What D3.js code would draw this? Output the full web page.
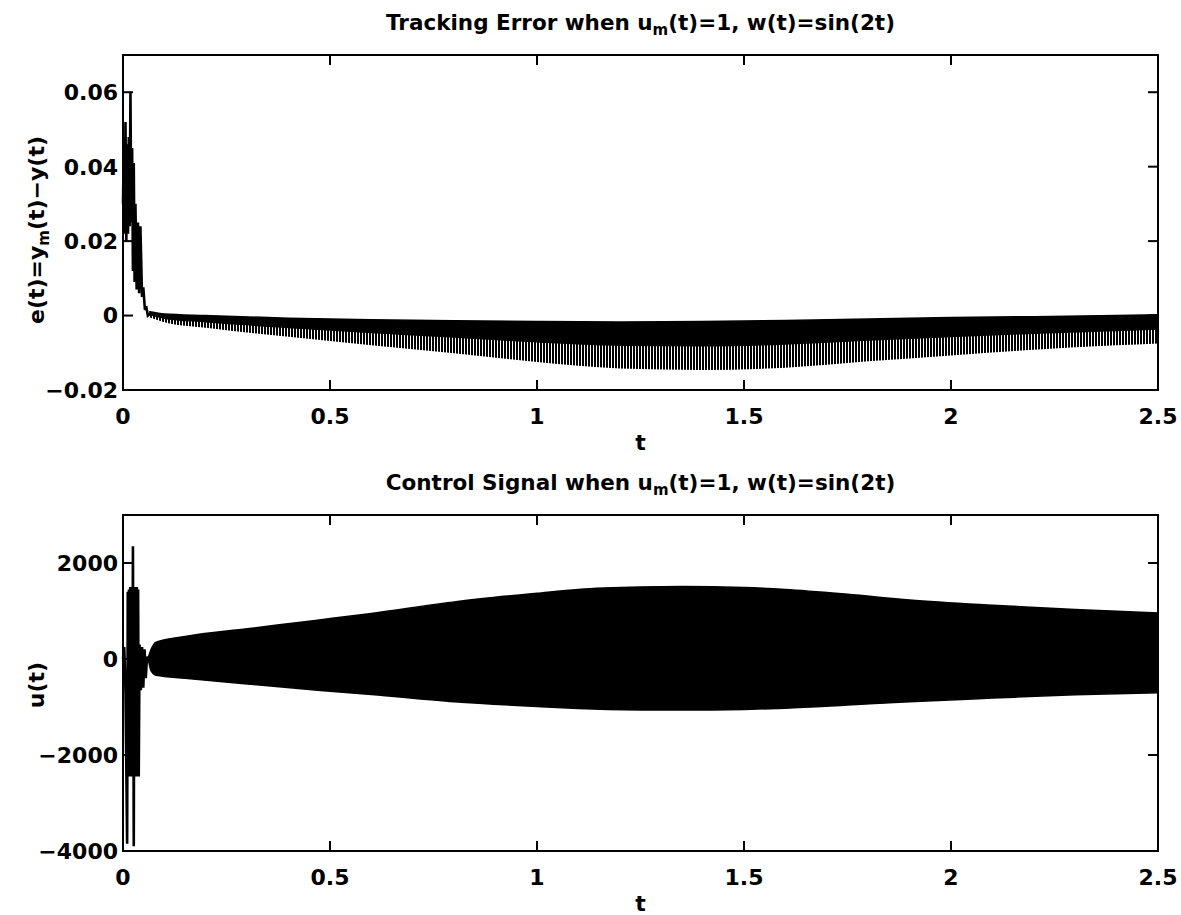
<!DOCTYPE html>
<html>
<head>
<meta charset="utf-8">
<script src="https://cdn.jsdelivr.net/npm/d3@7"></script>
<style>
  body { margin: 0; background: #fff; }
  text { font-family: "DejaVu Sans", "Liberation Sans", Arial, sans-serif; font-weight: bold; fill: #000; }
</style>
</head>
<body>
<div id="chart"></div>
<script>
// tick labels
const tTicks = [0, 0.5, 1, 1.5, 2, 2.5]
const errTicks = [-0.02, 0, 0.02, 0.04, 0.06]
const uTicks = [-4000, -2000, 0, 2000]

// tracking error: start-up burst, read point by point
const errBurstT = [0.000, 0.002, 0.004, 0.006, 0.008, 0.010, 0.012, 0.014, 0.016, 0.018, 0.020, 0.022, 0.024, 0.026, 0.028, 0.030, 0.033, 0.036, 0.039, 0.042, 0.046, 0.049, 0.053, 0.056, 0.060, 0.065]
const errBurstV = [0.030, 0.047, 0.022, 0.052, 0.020, 0.046, 0.022, 0.048, 0.024, 0.060, 0.025, 0.045, 0.012, 0.041, 0.009, 0.030, 0.007, 0.025, 0.006, 0.024, 0.005, 0.0076, 0.0015, 0.0025, 0.000, 0.0005]

// tracking error: envelope of the fast oscillation
const errEnvT = [0.065, 0.1, 0.2, 0.4, 0.6, 0.8, 1.0, 1.2, 1.4, 1.6, 1.8, 2.0, 2.2, 2.4, 2.5]
const errUpper = [0.0010, 0.0004, 0.0000, -0.0007, -0.0011, -0.0014, -0.0016, -0.0017, -0.0016, -0.0013, -0.0009, -0.0005, -0.0003, 0.0000, 0.0002]
const errLower = [-0.0005, -0.0018, -0.0033, -0.0057, -0.0080, -0.0101, -0.0125, -0.0142, -0.0146, -0.0140, -0.0123, -0.0107, -0.0092, -0.0080, -0.0075]

// control signal: start-up burst
const uBurstT = [0.000, 0.003, 0.006, 0.010, 0.0115, 0.013, 0.0145, 0.016, 0.0175, 0.019, 0.0205, 0.022, 0.024, 0.026, 0.0275, 0.029, 0.0305, 0.032, 0.0335, 0.035, 0.0365, 0.038, 0.040, 0.043, 0.046, 0.049, 0.052, 0.055, 0.058, 0.062]
const uBurstV = [0, 250, -650, -3850, 1400, -2450, 1450, -2450, 1500, -2400, 1450, -2450, 2350, -3900, 1500, -2450, 1450, -2400, 1500, -2450, 1450, -2450, 300, -650, 250, -600, 200, -400, 50, -50]

// control signal: envelope
const uEnvT = [0.062, 0.068, 0.08, 0.15, 0.3, 0.47, 0.6, 0.8, 1.0, 1.1, 1.25, 1.35, 1.5, 1.6, 1.75, 1.9, 2.1, 2.3, 2.5]
const uUpper = [50, 200, 350, 470, 630, 810, 950, 1190, 1370, 1450, 1500, 1510, 1490, 1450, 1350, 1230, 1120, 1030, 960]
const uLower = [-50, -250, -340, -400, -520, -650, -740, -890, -990, -1030, -1060, -1065, -1050, -1025, -960, -890, -815, -745, -705]

const width = 1181
const height = 915

let frame = { left: 123, right: 1158 }

let svg = d3.select('#chart').append('svg')
  .attr('width', width)
  .attr('height', height)

let defs = svg.append('defs')
let stripes = defs.append('pattern')
  .attr('id', 'stripes')
  .attr('patternUnits', 'userSpaceOnUse')
  .attr('width', 3)
  .attr('height', 10)
stripes.append('rect')
  .attr('width', 2)
  .attr('height', 10)
  .attr('fill', '#000')

let x = d3.scaleLinear().domain([0, 2.5]).range([frame.left, frame.right])

function drawFrame(g, y, top, bottom, yTicks, yFormat) {
  // box
  g.append('rect')
    .attr('x', frame.left)
    .attr('y', top)
    .attr('width', frame.right - frame.left)
    .attr('height', bottom - top)
    .attr('fill', 'none')
    .attr('stroke', '#000')
    .attr('stroke-width', 2)

  // inward ticks on all four sides
  let xt = g.append('g')
  xt.selectAll('.xb').data(tTicks).enter().append('line')
    .attr('x1', d => x(d)).attr('x2', d => x(d))
    .attr('y1', bottom).attr('y2', bottom - 10)
  xt.selectAll('.xt').data(tTicks).enter().append('line')
    .attr('x1', d => x(d)).attr('x2', d => x(d))
    .attr('y1', top).attr('y2', top + 10)
  xt.selectAll('.yl').data(yTicks).enter().append('line')
    .attr('x1', frame.left).attr('x2', frame.left + 10)
    .attr('y1', d => y(d)).attr('y2', d => y(d))
  xt.selectAll('.yr').data(yTicks).enter().append('line')
    .attr('x1', frame.right).attr('x2', frame.right - 10)
    .attr('y1', d => y(d)).attr('y2', d => y(d))
  xt.selectAll('line')
    .attr('stroke', '#000')
    .attr('stroke-width', 2)

  g.selectAll('.xlabel').data(tTicks).enter().append('text')
    .attr('x', d => x(d))
    .attr('y', bottom + 34)
    .attr('text-anchor', 'middle')
    .style('font-size', '22px')
    .text(d => d)

  g.selectAll('.ylabel').data(yTicks).enter().append('text')
    .attr('x', frame.left - 5)
    .attr('y', d => y(d))
    .attr('dy', '0.36em')
    .attr('text-anchor', 'end')
    .style('font-size', '22px')
    .text(yFormat)

  g.append('text')
    .attr('x', (frame.left + frame.right) / 2)
    .attr('y', bottom + 60)
    .attr('text-anchor', 'middle')
    .style('font-size', '22px')
    .text('t')
}

function drawTitle(g, top, lead) {
  let t = g.append('text')
    .attr('x', (frame.left + frame.right) / 2)
    .attr('y', top - 25)
    .attr('text-anchor', 'middle')
    .style('font-size', '21.5px')
  t.append('tspan').text(lead + ' when u')
  t.append('tspan').attr('dy', 5).style('font-size', '15px').text('m')
  t.append('tspan').attr('dy', -5).text('(t)=1, w(t)=sin(2t)')
}

function drawBurst(g, y, ts, vs) {
  let pts = ts.map((t, i) => [t, vs[i]])
  g.append('path')
    .datum(pts)
    .attr('d', d3.line().x(d => x(d[0])).y(d => y(d[1])))
    .attr('fill', 'none')
    .attr('stroke', '#000')
    .attr('stroke-width', 2.6)
    .attr('stroke-linejoin', 'miter')
}

// ---------- top: tracking error ----------
let top1 = 55, bottom1 = 390
let yErr = d3.scaleLinear().domain([-0.02, 0.07]).range([bottom1, top1])
let g1 = svg.append('g')

let errBand = errEnvT.map((t, i) => ({ t: t, hi: errUpper[i], lo: errLower[i] }))
// solid upper part of the band, striped lower part (as in the print)
g1.append('path')
  .datum(errBand)
  .attr('d', d3.area().curve(d3.curveMonotoneX)
    .x(d => x(d.t))
    .y0(d => yErr(d.hi + 0.45 * (d.lo - d.hi)))
    .y1(d => yErr(d.lo)))
  .attr('fill', 'url(#stripes)')
g1.append('path')
  .datum(errBand)
  .attr('d', d3.area().curve(d3.curveMonotoneX)
    .x(d => x(d.t))
    .y0(d => yErr(d.hi + 0.5 * (d.lo - d.hi)))
    .y1(d => yErr(d.hi)))
  .attr('fill', '#000')
  .attr('stroke', '#000')
  .attr('stroke-width', 1.5)
drawBurst(g1, yErr, errBurstT, errBurstV)

drawFrame(g1, yErr, top1, bottom1, errTicks, d => d === 0 ? '0' : d3.format('.2f')(d).replace('-', '\u2212'))
drawTitle(g1, top1, 'Tracking Error')

let yl1 = g1.append('text')
  .attr('transform', 'translate(44,' + 230 + ') rotate(-90)')
  .attr('text-anchor', 'middle')
  .style('font-size', '22px')
yl1.append('tspan').text('e(t)=y')
yl1.append('tspan').attr('dy', 5).style('font-size', '15px').text('m')
yl1.append('tspan').attr('dy', -5).text('(t)\u2212y(t)')

// ---------- bottom: control signal ----------
let top2 = 515, bottom2 = 851
let yU = d3.scaleLinear().domain([-4000, 3000]).range([bottom2, top2])
let g2 = svg.append('g')

let uBand = uEnvT.map((t, i) => ({ t: t, hi: uUpper[i], lo: uLower[i] }))
g2.append('path')
  .datum(uBand)
  .attr('d', d3.area().curve(d3.curveMonotoneX)
    .x(d => x(d.t))
    .y0(d => yU(d.lo))
    .y1(d => yU(d.hi)))
  .attr('fill', '#000')
  .attr('stroke', '#000')
  .attr('stroke-width', 1.5)
drawBurst(g2, yU, uBurstT, uBurstV)

drawFrame(g2, yU, top2, bottom2, uTicks, d => String(d).replace('-', '\u2212'))
drawTitle(g2, top2, 'Control Signal')

g2.append('text')
  .attr('transform', 'translate(44,' + 685 + ') rotate(-90)')
  .attr('text-anchor', 'middle')
  .style('font-size', '22px')
  .text('u(t)')
</script>
</body>
</html>
